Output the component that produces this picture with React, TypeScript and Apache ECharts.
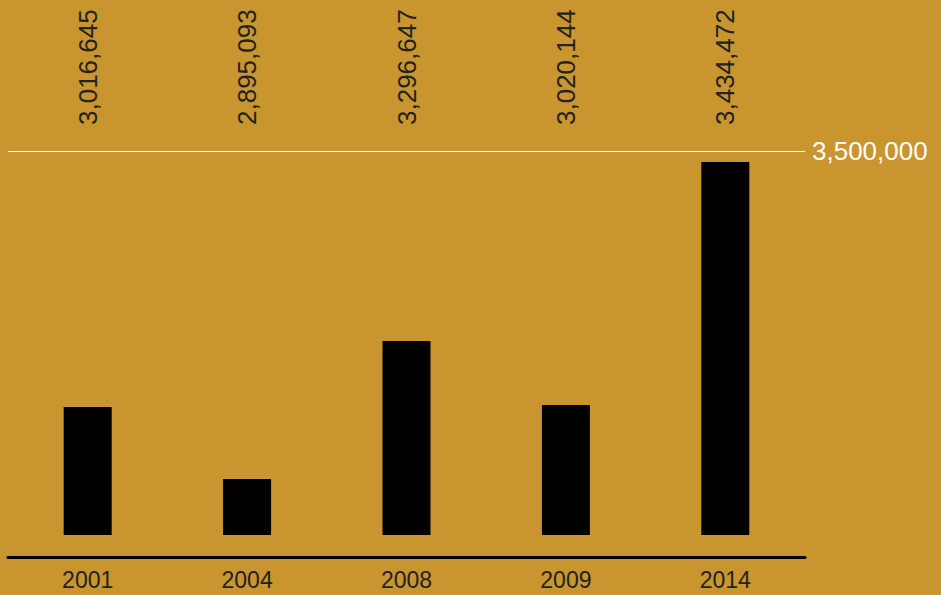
import React, { useEffect, useRef } from "react";
import * as echarts from "echarts";

const categories = ["2001", "2004", "2008", "2009", "2014"];
// bar heights as drawn in the picture
const barValues = [3033300, 2902100, 3153600, 3037000, 3479900];
// value labels printed above the chart
const valueLabels = ["3,016,645", "2,895,093", "3,296,647", "3,020,144", "3,434,472"];
const axisMin = 2800000;
const axisMax = 3500000;

export default function App() {
  const ref = useRef<HTMLDivElement>(null);
  useEffect(() => {
    if (!ref.current) return;
    const chart = echarts.init(ref.current, null, { renderer: "svg" });
    const font = "Arial, 'Liberation Sans', sans-serif";
    chart.setOption({
      animation: false,
      backgroundColor: "#C8952E",
      textStyle: { fontFamily: font },
      grid: { left: 8, right: 136, top: 151, bottom: 60 },
      xAxis: [
        {
          type: "category",
          data: categories,
          position: "bottom",
          offset: 22,
          axisLine: { show: true, lineStyle: { color: "#000", width: 3 } },
          axisTick: { show: false },
          axisLabel: { color: "#222", fontSize: 23, margin: 11, fontFamily: font },
        },
        {
          type: "category",
          data: valueLabels,
          position: "top",
          axisLine: { show: false },
          axisTick: { show: false },
          axisLabel: { color: "#222", fontSize: 26, rotate: -90, margin: 26, fontFamily: font },
        },
      ],
      yAxis: {
        type: "value",
        position: "right",
        min: axisMin,
        max: axisMax,
        interval: 700000,
        axisLine: { show: false },
        axisTick: { show: false },
        axisLabel: {
          color: "#fff",
          fontSize: 26,
          margin: 7,
          showMinLabel: false,
          fontFamily: font,
          formatter: (v: number) => v.toLocaleString("en-US"),
        },
        splitLine: { show: true, showMinLine: false, lineStyle: { color: "#fff", width: 1 } },
      },
      series: [
        {
          type: "bar",
          data: barValues,
          barWidth: 48,
          itemStyle: { color: "#000" },
        },
      ],
    });
    return () => chart.dispose();
  }, []);
  return <div ref={ref} style={{ width: 941, height: 595, position: "fixed", left: 0, top: 0 }} />;
}
